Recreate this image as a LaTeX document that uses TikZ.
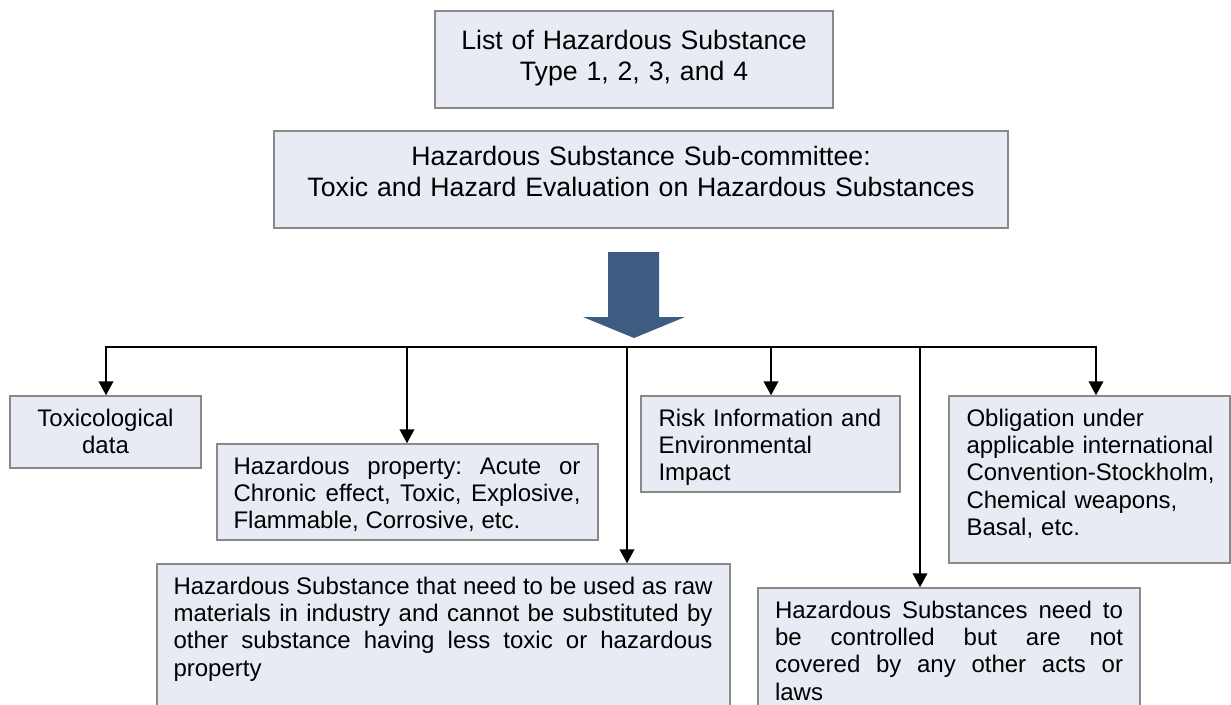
\documentclass[tikz,border=0pt]{standalone}
\usepackage{fontspec}
\setmainfont{Liberation Sans}
\usetikzlibrary{arrows.meta,calc,fit}
\hyphenpenalty=10000
\exhyphenpenalty=10000
\frenchspacing
\definecolor{boxfill}{HTML}{E8EBF3}
\definecolor{boxline}{HTML}{8A8A8A}
\definecolor{bigarrow}{HTML}{3E5C82}
\begin{document}
\begin{tikzpicture}[x=0.75pt,y=-0.75pt,
  box/.style={draw=boxline, fill=boxfill, line width=1.1pt, inner sep=0pt},
  txt/.style={inner sep=0pt, anchor=base west, font=\fontsize{18}{20.5}\selectfont\frenchspacing},
  ctxt/.style={inner sep=0pt, anchor=base, align=center, font=\fontsize{18}{20.5}\selectfont},
  toptxt/.style={inner sep=0pt, anchor=base, align=center, font=\fontsize{20}{23.25}\selectfont},
  link/.style={line width=1.4pt, black},
  arr/.style={link, -{Triangle[width=11pt,length=10.5pt]}},
]
\useasboundingbox (0,0) rectangle (1231,704);
\clip (0,0) rectangle (1231,704);

% top boxes
\node[box, fit={(435,11)(833,108)}] (list) {};
\node[toptxt, text width=285pt] (listt) at ($(list.north)+(0,39.5)$) {List of Hazardous Substance\\Type 1, 2, 3, and 4};
\node[box, fit={(274,131)(1008,228)}] (sub) {};
\node[toptxt, text width=525pt] (subt) at ($(sub.north)+(0,35)$) {Hazardous Substance Sub-committee:\\Toxic and Hazard Evaluation on Hazardous Substances};

% big arrow
\fill[bigarrow] (608,252) -- (659,252) -- (659,317) -- (685,317) -- (634,338) -- (583,317) -- (608,317) -- cycle;

% lower boxes
\node[box, fit={(10,396)(201,468)}] (tox) {};
\node[ctxt, text width=135pt] (toxt) at ($(tox.north)+(0,31)$) {Toxicological\\data};

\node[box, fit={(217,444)(598,540)}] (haz) {};
\node[txt, text width=260.25pt, align=justify] (hazt) at ($(haz.north west)+(17,31)$) {Hazardous property: Acute or\linebreak Chronic effect, Toxic, Explosive,\linebreak Flammable, Corrosive, etc.};

\node[box, fit={(641,396)(900,492)}] (risk) {};
\node[txt, text width=180pt, align=left] (riskt) at ($(risk.north west)+(18,31)$) {Risk Information and\\Environmental\\Impact};

\node[box, fit={(949,396)(1230,563)}] (obl) {};
\node[txt, text width=200pt, align=left] (oblt) at ($(obl.north west)+(18,31)$) {Obligation under\\applicable international\\Convention-Stockholm,\\Chemical weapons,\\Basal, etc.};

\node[box, fit={(157,564)(730,730)}] (raw) {};
\node[txt, text width=404.25pt, align=justify] (rawt) at ($(raw.north west)+(17,31)$) {Hazardous Substance that need to be used as raw\linebreak materials in industry and cannot be substituted by\linebreak other substance having less toxic or hazardous\linebreak property};

\node[box, fit={(758,588)(1140,730)}] (ctl) {};
\node[txt, text width=261pt, align=justify] (ctlt) at ($(ctl.north west)+(17.5,31)$) {Hazardous Substances need to\linebreak be controlled but are not\linebreak covered by any other acts or\linebreak laws};

% connectors
\coordinate (j1) at (106,347);
\coordinate (j2) at (407,347);
\coordinate (j3) at (627,347);
\coordinate (j4) at (771,347);
\coordinate (j5) at (920,347);
\coordinate (j6) at (1096,347);
\draw[link, line cap=rect] (j1) -- (j6);
\draw[arr] (j1) -- (j1 |- tox.north);
\draw[arr] (j2) -- (j2 |- haz.north);
\draw[arr] (j3) -- (j3 |- raw.north);
\draw[arr] (j4) -- (j4 |- risk.north);
\draw[arr] (j5) -- (j5 |- ctl.north);
\draw[arr] (j6) -- (j6 |- obl.north);
\end{tikzpicture}
\end{document}
